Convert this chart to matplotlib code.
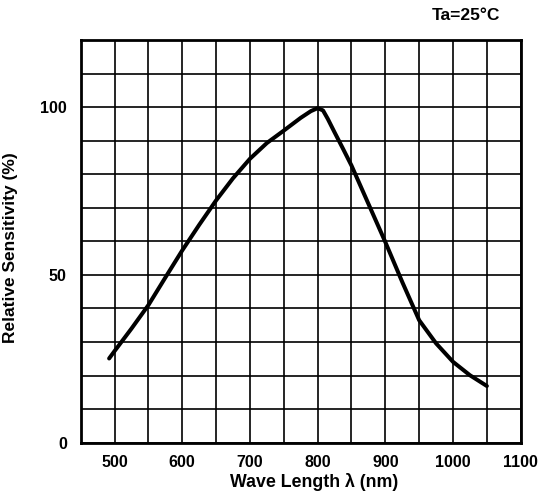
import matplotlib
matplotlib.use("Agg")
import matplotlib.pyplot as plt
from matplotlib.ticker import MultipleLocator, FixedLocator

# Spectral sensitivity curve
wavelength = [492, 500, 525, 550, 575, 600, 625, 650, 675, 700, 725, 750,
              775, 790, 800, 808, 815, 825, 837, 850, 875, 900, 925, 950,
              975, 1000, 1025, 1050]
sensitivity = [25.1, 27.3, 34.0, 41.0, 49.2, 57.3, 64.9, 72.2, 78.8, 84.6,
               89.3, 93.0, 96.8, 98.8, 99.7, 99.0, 96.5, 92.5, 87.8, 82.6,
               71.2, 59.8, 47.9, 36.5, 29.6, 24.1, 20.1, 16.9]

x_ticks = [500, 600, 700, 800, 900, 1000, 1100]
y_ticks = [0, 50, 100]

plt.rcParams['font.family'] = ['Liberation Sans', 'DejaVu Sans']
plt.rcParams['font.weight'] = 'bold'

W, H = 539, 496
fig = plt.figure(figsize=(W / 100, H / 100), dpi=100)
ax = fig.add_axes([80.7 / W, 1 - 442.7 / H, 440 / W, 402.7 / H])

ax.plot(wavelength, sensitivity, color='black', linewidth=2.9,
        solid_capstyle='round', solid_joinstyle='round', zorder=3)

ax.set_xlim(450, 1100)
ax.set_ylim(0, 120)

ax.xaxis.set_major_locator(FixedLocator(x_ticks))
ax.xaxis.set_minor_locator(MultipleLocator(50))
ax.yaxis.set_major_locator(FixedLocator(y_ticks))
ax.yaxis.set_minor_locator(MultipleLocator(10))

ax.grid(which='both', color='black', linewidth=1.2)
ax.tick_params(which='both', length=0, labelsize=11.5)
ax.tick_params(axis='x', pad=9)
ax.tick_params(axis='y', pad=10)
for lab in ax.get_xticklabels() + ax.get_yticklabels():
    lab.set_fontweight('bold')

for spine in ax.spines.values():
    spine.set_linewidth(2.0)

# axis titles
fig.text(314 / W, 1 - 482 / H, 'Wave Length λ (nm)', ha='center', va='center',
         fontsize=12.8, fontweight='bold')
fig.text(10.5 / W, 1 - 248 / H, 'Relative Sensitivity (%)', ha='center', va='center',
         rotation=90, fontsize=12.5, fontweight='bold')

fig.text(466 / W, 1 - 15 / H, 'Ta=25°C', ha='center', va='center',
         fontsize=12.5, fontweight='bold')

fig.savefig('out.png', dpi=100)
